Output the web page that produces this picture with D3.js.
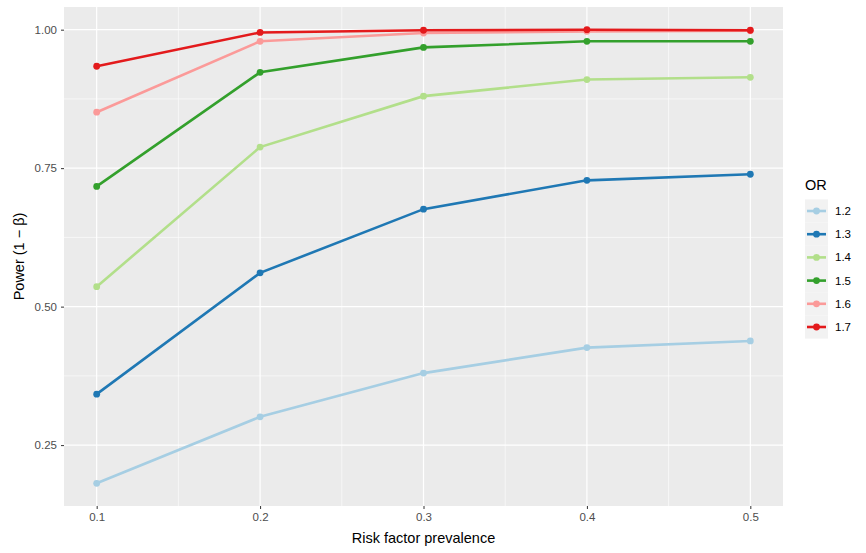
<!DOCTYPE html>
<html><head><meta charset="utf-8">
<script src="https://cdn.jsdelivr.net/npm/d3@7"></script>
<style>body{margin:0;background:#fff}text{font-family:"Liberation Sans",Arial,sans-serif}</style>
</head><body><svg id="c" width="866" height="553"></svg>
<script>
const prevalence = [0.1, 0.2, 0.3, 0.4, 0.5];
const orLevels = ["1.2", "1.3", "1.4", "1.5", "1.6", "1.7"];
const power12 = [0.181, 0.301, 0.380, 0.426, 0.438];
const power13 = [0.342, 0.561, 0.676, 0.728, 0.739];
const power14 = [0.536, 0.788, 0.880, 0.910, 0.914];
const power15 = [0.717, 0.923, 0.968, 0.979, 0.979];
const power16 = [0.851, 0.979, 0.994, 0.997, 0.998];
const power17 = [0.934, 0.995, 0.999, 1.000, 0.999];
const seriesValues = [power12, power13, power14, power15, power16, power17];
const colors = ["#A6CEE3", "#1F78B4", "#B2DF8A", "#33A02C", "#FB9A99", "#E31A1C"];
const yTicks = [0.25, 0.50, 0.75, 1.00];
const xTicks = [0.1, 0.2, 0.3, 0.4, 0.5];

const svg = d3.select("#c");
const L = 64, R = 783, T = 7, B = 506;
const x = d3.scaleLinear().domain([0.08, 0.52]).range([L, R]);
const yMin = 0.181, yMax = 1.0, pad = (yMax - yMin) * 0.05;
const y = d3.scaleLinear().domain([yMin - pad, yMax + pad]).range([B, T]);

svg.append("rect").attr("x", L).attr("y", T).attr("width", R - L).attr("height", B - T).attr("fill", "#EBEBEB");
// minor grid
const xMinor = [0.15, 0.25, 0.35, 0.45];
const yMinor = [0.375, 0.625, 0.875];
svg.append("g").selectAll("line").data(xMinor).join("line")
  .attr("x1", d => x(d)).attr("x2", d => x(d)).attr("y1", T).attr("y2", B)
  .attr("stroke", "#fff").attr("stroke-width", 0.6);
svg.append("g").selectAll("line").data(yMinor).join("line")
  .attr("y1", d => y(d)).attr("y2", d => y(d)).attr("x1", L).attr("x2", R)
  .attr("stroke", "#fff").attr("stroke-width", 0.6);
svg.append("g").selectAll("line").data(xTicks).join("line")
  .attr("x1", d => x(d)).attr("x2", d => x(d)).attr("y1", T).attr("y2", B)
  .attr("stroke", "#fff").attr("stroke-width", 1.2);
svg.append("g").selectAll("line").data(yTicks).join("line")
  .attr("y1", d => y(d)).attr("y2", d => y(d)).attr("x1", L).attr("x2", R)
  .attr("stroke", "#fff").attr("stroke-width", 1.2);

// axes
const xAxis = d3.axisBottom(x).tickValues(xTicks).tickFormat(d3.format(".1f")).tickSize(3).tickPadding(4);
const gx = svg.append("g").attr("transform", `translate(0,${B})`).call(xAxis);
const yAxis = d3.axisLeft(y).tickValues(yTicks).tickFormat(d3.format(".2f")).tickSize(3).tickPadding(4);
const gy = svg.append("g").attr("transform", `translate(${L},0)`).call(yAxis);
[gx, gy].forEach(g => {
  g.select(".domain").remove();
  g.selectAll(".tick line").attr("stroke", "#333").attr("stroke-width", 1);
  g.selectAll(".tick text").attr("fill", "#4D4D4D").style("font-size", "11.5px");
});

// lines
const line = d3.line().x((d, i) => x(prevalence[i])).y(d => y(d));
seriesValues.forEach((vals, k) => {
  svg.append("path").datum(vals).attr("d", line).attr("fill", "none")
    .attr("stroke", colors[k]).attr("stroke-width", 2.6);
  svg.append("g").selectAll("circle").data(vals).join("circle")
    .attr("cx", (d, i) => x(prevalence[i])).attr("cy", d => y(d)).attr("r", 3.4)
    .attr("fill", colors[k]);
});

// titles
svg.append("text").attr("x", (L + R) / 2).attr("y", 543).attr("text-anchor", "middle")
  .style("font-size", "14.5px").attr("fill", "#000").text("Risk factor prevalence");
svg.append("text").attr("transform", `translate(24,${(T + B) / 2}) rotate(-90)`).attr("text-anchor", "middle")
  .style("font-size", "14.5px").attr("fill", "#000").text("Power (1 \u2212 \u03B2)");

// legend
const lg = svg.append("g").attr("transform", "translate(805,0)");
lg.append("text").attr("x", 0).attr("y", 190).style("font-size", "14.5px").attr("fill", "#000").text("OR");
orLevels.forEach((lab, k) => {
  const cy = 211 + k * 23.2;
  lg.append("rect").attr("x", 0).attr("y", cy - 11.6).attr("width", 23).attr("height", 23.2).attr("fill", "#F2F2F2");
  lg.append("line").attr("x1", 2).attr("x2", 21).attr("y1", cy).attr("y2", cy).attr("stroke", colors[k]).attr("stroke-width", 2.6);
  lg.append("circle").attr("cx", 11.5).attr("cy", cy).attr("r", 3.4).attr("fill", colors[k]);
  lg.append("text").attr("x", 30).attr("y", cy + 4).style("font-size", "11.5px").attr("fill", "#000").text(lab);
});
</script></body></html>
